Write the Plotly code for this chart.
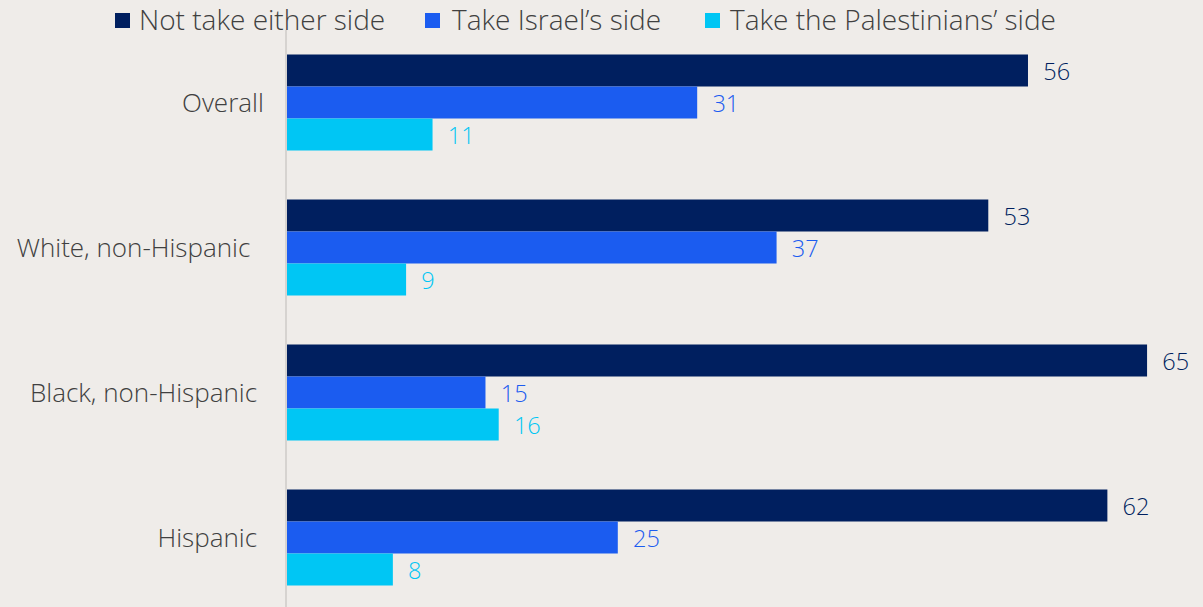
import plotly.graph_objects as go

# Survey groups and the share (%) choosing each response
groups = ["Overall", "White, non-Hispanic", "Black, non-Hispanic", "Hispanic"]
group_labels = ["Overall", "White, non-Hispanic\u00a0\u00a0", "Black, non-Hispanic\u00a0", "Hispanic\u00a0"]
neither = [56, 53, 65, 62]
israel = [31, 37, 15, 25]
palestinians = [11, 9, 16, 8]

series_names = ["Not take either side", "Take Israel\u2019s side", "Take the Palestinians\u2019 side"]
series_values = [neither, israel, palestinians]
series_colors = ["#001F5F", "#1B5CF0", "#00C6F4"]

FONT = "'Open Sans', 'Noto Sans', sans-serif"
TEXT_COLOR = "#404040"
BG = "#EFECE9"

W, H = 1203, 607
M_L, M_R, M_T, M_B = 287, 3, 30, 0
PLOT_W = W - M_L - M_R
PLOT_H = H - M_T - M_B


def px_to_paper_x(px):
    return (px - M_L) / PLOT_W


def px_to_paper_y(py):
    return 1 - (py - M_T) / PLOT_H


fig = go.Figure()
for name, vals, color in zip(series_names, series_values, series_colors):
    fig.add_trace(go.Bar(
        name=name,
        y=groups,
        x=vals,
        orientation="h",
        marker=dict(color=color, line=dict(width=0)),
        text=vals,
        texttemplate="\u00a0\u00a0%{x}",
        textposition="outside",
        cliponaxis=False,
        textfont=dict(family=FONT, size=25, color=color, weight=300),
        showlegend=False,
    ))

# Legend row across the top: coloured squares followed by series names
legend_square_px = [115, 425, 705]
legend_text_px = [137, 450, 728]
legend_y_px = 20.5
sq = 15
shapes = []
annotations = []
for name, color, sx, tx in zip(series_names, series_colors, legend_square_px, legend_text_px):
    shapes.append(dict(
        type="rect", xref="paper", yref="paper",
        x0=px_to_paper_x(sx), x1=px_to_paper_x(sx + sq),
        y0=px_to_paper_y(legend_y_px + sq / 2), y1=px_to_paper_y(legend_y_px - sq / 2),
        fillcolor=color, line=dict(width=0),
    ))
    annotations.append(dict(
        text=name, xref="paper", yref="paper",
        x=px_to_paper_x(tx), y=px_to_paper_y(legend_y_px - 1),
        xanchor="left", yanchor="middle", showarrow=False,
        font=dict(family=FONT, size=28, color=TEXT_COLOR, weight=300),
    ))

fig.update_layout(
    width=W,
    height=H,
    barmode="group",
    bargap=0.338,
    bargroupgap=0,
    paper_bgcolor=BG,
    plot_bgcolor=BG,
    margin=dict(l=M_L, r=M_R, t=M_T, b=M_B, autoexpand=False),
    font=dict(family=FONT, color=TEXT_COLOR),
    showlegend=False,
    shapes=shapes,
    annotations=annotations,
    xaxis=dict(
        range=[0, 69],
        visible=False,
        showgrid=False,
        zeroline=False,
    ),
    yaxis=dict(
        categoryorder="array",
        categoryarray=groups,
        tickvals=groups,
        ticktext=group_labels,
        range=[3.48, -0.5],
        showline=True,
        linecolor="#D6D3D0",
        linewidth=2,
        showgrid=False,
        ticks="",
        ticklabelstandoff=16,
        tickfont=dict(family=FONT, size=26, color=TEXT_COLOR, weight=300),
    ),
)

fig.write_html("out.html")
